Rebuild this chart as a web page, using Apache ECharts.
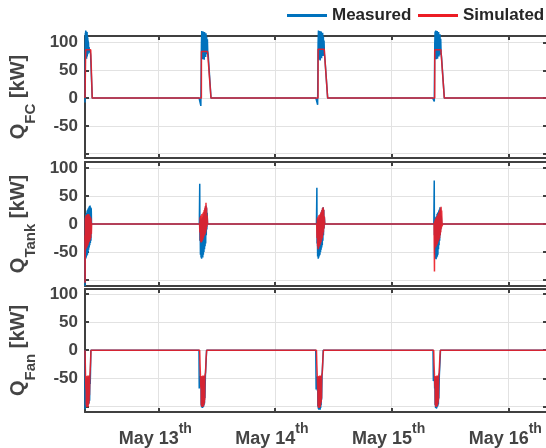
<!DOCTYPE html>
<html><head><meta charset="utf-8">
<script src="https://cdn.jsdelivr.net/npm/echarts@6/dist/echarts.min.js"></script>
<style>html,body{margin:0;padding:0;background:#fff}#c{width:546px;height:448px}</style>
</head><body><div id="c"></div>
<script>
// time in days relative to May 13 00:00
const xTickValues = [0, 1, 2, 3];
const xTickLabels = ['May 13', 'May 14', 'May 15', 'May 16'];
const yTickValues = [-100, -50, 0, 50, 100];
const yLabelValues = [-50, 0, 50, 100];
const panelNames = ['FC', 'Tank', 'Fan'];
const seriesNames = ['Measured', 'Simulated'];

const fcMeasured = [
 [-0.628,-8],[-0.6265,62],[-0.625,118],[-0.6235,76],[-0.622,122],[-0.6205,72],[-0.619,117],[-0.6175,79],[-0.616,120],[-0.6145,71],[-0.613,115],[-0.6115,83],[-0.610,119],[-0.6085,75],[-0.607,112],[-0.6055,86],[-0.604,109],[-0.6025,79],[-0.601,104],[-0.5995,88],[-0.598,100],[-0.596,84],[-0.593,92],[-0.589,82],[-0.585,86],[-0.580,78],[-0.566,0],
 [0.350,0],[0.365,-14],[0.370,96],[0.373,121],[0.376,72],[0.379,118],[0.382,70],[0.385,120],[0.388,76],[0.391,116],[0.394,69],[0.397,119],[0.400,78],[0.403,115],[0.406,74],[0.409,117],[0.412,82],[0.415,110],[0.418,79],[0.421,106],[0.424,84],[0.428,78],[0.452,0],
 [1.351,0],[1.366,-12],[1.370,98],[1.373,122],[1.376,69],[1.379,120],[1.382,75],[1.385,121],[1.388,68],[1.391,117],[1.394,80],[1.397,120],[1.400,72],[1.403,113],[1.406,85],[1.409,118],[1.412,76],[1.415,111],[1.418,83],[1.421,104],[1.424,80],[1.428,72],[1.452,0],
 [2.352,0],[2.366,-6],[2.370,97],[2.373,120],[2.376,73],[2.379,122],[2.382,70],[2.385,118],[2.388,77],[2.391,121],[2.394,71],[2.397,116],[2.400,82],[2.403,119],[2.406,75],[2.409,112],[2.412,84],[2.415,115],[2.418,78],[2.421,107],[2.424,82],[2.428,74],[2.452,0],
 [3.332,0]
];
const fcSimulated = [
 [-0.628,0],[-0.6225,0],[-0.622,87],[-0.579,87],[-0.566,0],
 [0.3695,0],[0.370,84],[0.4225,84],[0.452,0],
 [1.3695,0],[1.370,88],[1.4225,88],[1.452,0],
 [2.3695,0],[2.370,87],[2.4225,87],[2.452,0],
 [3.332,0]
];
const tankMeasured = [
 [-0.628,-30],[-0.6275,-111],[-0.626,-70],[-0.6245,12],[-0.622,-62],[-0.6195,18],[-0.617,-60],[-0.6145,20],[-0.612,-57],[-0.6095,24],[-0.607,-55],[-0.6045,26],[-0.602,-50],[-0.5995,28],[-0.597,-46],[-0.5945,30],[-0.592,-42],[-0.5895,32],[-0.587,-38],[-0.5845,33],[-0.582,-34],[-0.5795,30],[-0.577,-30],[-0.5745,28],[-0.572,0],
 [0.352,0],[0.3555,72],[0.357,-30],[0.359,5],[0.3615,-55],[0.364,8],[0.3665,-60],[0.369,10],[0.3715,-62],[0.374,6],[0.3765,-58],[0.379,12],[0.3815,-60],[0.384,8],[0.3865,-55],[0.389,15],[0.3915,-50],[0.394,20],[0.3965,-45],[0.399,26],[0.4015,-40],[0.404,30],[0.4065,-35],[0.409,33],[0.4115,-20],[0.414,28],[0.4165,-10],[0.419,20],[0.422,0],
 [1.356,0],[1.3595,65],[1.361,-35],[1.3635,5],[1.366,-58],[1.3685,8],[1.371,-62],[1.3735,6],[1.376,-60],[1.3785,10],[1.381,-57],[1.3835,12],[1.386,-55],[1.3885,15],[1.391,-50],[1.3935,18],[1.396,-46],[1.3985,22],[1.401,-42],[1.4035,25],[1.406,-38],[1.4085,28],[1.411,-30],[1.4135,30],[1.416,-20],[1.4185,25],[1.421,-8],[1.424,12],[1.427,0],
 [2.362,0],[2.3655,78],[2.367,-20],[2.3695,8],[2.372,-55],[2.3745,10],[2.377,-62],[2.3795,12],[2.382,-63],[2.3845,14],[2.387,-60],[2.3895,18],[2.392,-58],[2.3945,20],[2.397,-55],[2.3995,21],[2.402,-45],[2.4045,24],[2.407,-38],[2.4095,26],[2.412,-30],[2.4145,30],[2.417,-20],[2.4195,28],[2.422,-10],[2.425,15],[2.43,0],
 [3.332,0]
];
const tankSimulated = [
 [-0.628,-20],[-0.6272,-105],[-0.626,-40],[-0.6248,10],[-0.6235,-45],[-0.621,14],[-0.6185,-44],[-0.616,16],[-0.6135,-42],[-0.611,15],[-0.6085,-40],[-0.606,18],[-0.6035,-38],[-0.601,16],[-0.5985,-35],[-0.596,18],[-0.5935,-32],[-0.591,15],[-0.5885,-30],[-0.586,14],[-0.5835,-28],[-0.581,12],[-0.5785,-25],[-0.576,10],[-0.5735,-18],[-0.571,0],
 [0.354,0],[0.3565,-15],[0.359,12],[0.3615,-30],[0.364,15],[0.3665,-33],[0.369,14],[0.3715,-32],[0.374,18],[0.3765,-30],[0.379,16],[0.3815,-28],[0.384,20],[0.3865,-25],[0.389,22],[0.3915,-22],[0.394,25],[0.3965,-20],[0.399,28],[0.4015,-18],[0.404,32],[0.4065,-15],[0.409,38],[0.4115,-10],[0.414,30],[0.4165,-5],[0.419,15],[0.423,0],
 [1.358,0],[1.3605,-25],[1.363,10],[1.3655,-40],[1.368,12],[1.3705,-45],[1.373,14],[1.3755,-42],[1.378,16],[1.3805,-40],[1.383,15],[1.3855,-38],[1.388,18],[1.3905,-35],[1.393,20],[1.3955,-32],[1.398,22],[1.4005,-28],[1.403,25],[1.4055,-25],[1.408,28],[1.4105,-20],[1.413,30],[1.4155,-15],[1.418,26],[1.4205,-8],[1.423,14],[1.427,0],
 [2.364,0],[2.3674,-85],[2.369,5],[2.3715,-40],[2.374,8],[2.3765,-42],[2.379,10],[2.3815,-40],[2.384,12],[2.3865,-38],[2.389,14],[2.3915,-36],[2.394,15],[2.3965,-33],[2.399,18],[2.4015,-30],[2.404,20],[2.4065,-28],[2.409,22],[2.4115,-25],[2.414,25],[2.4165,-20],[2.419,28],[2.4215,-15],[2.424,31],[2.4265,-8],[2.429,24],[2.433,-4],[2.437,0],
 [3.332,0]
];
const fanMeasured = [
 [-0.628,0],[-0.6275,-105],[-0.626,-60],[-0.6245,-45],[-0.623,-70],[-0.621,-48],[-0.6185,-98],[-0.616,-50],[-0.6135,-100],[-0.611,-52],[-0.6085,-97],[-0.606,-48],[-0.6035,-99],[-0.601,-50],[-0.5985,-96],[-0.596,-47],[-0.5935,-95],[-0.591,-50],[-0.5885,-90],[-0.586,-45],[-0.5835,-60],[-0.581,-40],[-0.578,0],
 [0.349,0],[0.351,-68],[0.3545,-48],[0.358,-52],[0.3615,-46],[0.364,-65],[0.366,-48],[0.368,-99],[0.370,-50],[0.372,-102],[0.374,-49],[0.376,-100],[0.378,-48],[0.380,-103],[0.382,-50],[0.384,-101],[0.386,-47],[0.388,-100],[0.390,-48],[0.392,-98],[0.394,-46],[0.396,-95],[0.398,-50],[0.400,-85],[0.404,-45],[0.410,-20],[0.414,0],
 [1.350,0],[1.353,-70],[1.356,-48],[1.359,-55],[1.362,-47],[1.364,-72],[1.366,-48],[1.368,-100],[1.370,-49],[1.372,-104],[1.374,-48],[1.376,-106],[1.378,-50],[1.380,-105],[1.382,-48],[1.384,-104],[1.386,-47],[1.388,-106],[1.390,-49],[1.392,-103],[1.394,-46],[1.396,-98],[1.398,-50],[1.400,-88],[1.404,-45],[1.410,-20],[1.414,0],
 [2.355,0],[2.358,-55],[2.361,-47],[2.364,-52],[2.367,-46],[2.369,-68],[2.371,-48],[2.373,-98],[2.375,-50],[2.377,-103],[2.379,-49],[2.381,-101],[2.383,-48],[2.385,-104],[2.387,-50],[2.389,-102],[2.391,-47],[2.393,-100],[2.395,-48],[2.397,-99],[2.399,-46],[2.401,-96],[2.403,-50],[2.405,-86],[2.409,-45],[2.415,-20],[2.419,0],
 [3.332,0]
];
const fanSimulated = [
 [-0.628,0],[-0.626,-20],[-0.6235,-45],[-0.622,-48],[-0.620,-70],[-0.6185,-46],[-0.617,-98],[-0.6155,-47],[-0.614,-101],[-0.6125,-48],[-0.611,-99],[-0.6095,-46],[-0.608,-100],[-0.6065,-47],[-0.605,-98],[-0.6035,-45],[-0.602,-101],[-0.6005,-46],[-0.599,-97],[-0.5975,-45],[-0.596,-95],[-0.5945,-46],[-0.593,-90],[-0.5915,-45],[-0.590,-80],[-0.586,-45],[-0.580,-20],[-0.577,0],
 [0.355,0],[0.358,-25],[0.3615,-45],[0.364,-47],[0.3655,-68],[0.367,-46],[0.3685,-97],[0.370,-47],[0.3715,-100],[0.373,-46],[0.3745,-99],[0.376,-47],[0.3775,-101],[0.379,-46],[0.3805,-100],[0.382,-45],[0.3835,-99],[0.385,-46],[0.3865,-100],[0.388,-45],[0.3895,-98],[0.391,-46],[0.3925,-96],[0.394,-45],[0.3955,-93],[0.397,-46],[0.3985,-88],[0.400,-45],[0.405,-40],[0.410,-15],[0.415,0],
 [1.356,0],[1.359,-25],[1.3625,-45],[1.365,-47],[1.3665,-70],[1.368,-46],[1.3695,-99],[1.371,-47],[1.3725,-102],[1.374,-46],[1.3755,-101],[1.377,-47],[1.3785,-103],[1.380,-46],[1.3815,-102],[1.383,-45],[1.3845,-100],[1.386,-46],[1.3875,-101],[1.389,-45],[1.3905,-98],[1.392,-46],[1.3935,-95],[1.395,-45],[1.3965,-92],[1.398,-46],[1.3995,-86],[1.401,-45],[1.406,-40],[1.411,-15],[1.416,0],
 [2.361,0],[2.364,-25],[2.3675,-45],[2.370,-47],[2.3715,-66],[2.373,-46],[2.3745,-97],[2.376,-47],[2.3775,-100],[2.379,-46],[2.3805,-99],[2.382,-47],[2.3835,-101],[2.385,-46],[2.3865,-100],[2.388,-45],[2.3895,-99],[2.391,-46],[2.3925,-98],[2.394,-45],[2.3955,-96],[2.397,-46],[2.3985,-93],[2.400,-45],[2.4015,-88],[2.403,-45],[2.408,-40],[2.413,-15],[2.418,0],
 [3.332,0]
];

const measured = [fcMeasured, tankMeasured, fanMeasured];
const simulated = [fcSimulated, tankSimulated, fanSimulated];

const FONT = 'Liberation Sans, Arial, sans-serif';
const AX = '#404040';
const TXT = '#444444';
const BLUE = '#0072BD';
const RED = '#EC1C24';
const grids = [
  {left: 85, right: -1, top: 36, height: 122},
  {left: 85, right: -1, top: 162, height: 124},
  {left: 85, right: -1, top: 289, height: 123}
];
const yRanges = [[-108, 112], [-111, 111], [-110, 109]];
const xMin = -0.628, xMax = 3.332;

const xAxes = [], yAxes = [], series = [];
grids.forEach((g, i) => {
  const lineStyle = {color: AX, width: 2};
  xAxes.push({
    type: 'value', gridIndex: i, min: xMin, max: xMax, position: 'bottom',
    axisLine: {show: true, onZero: false, lineStyle},
    axisTick: {show: true, inside: true, length: 4, customValues: xTickValues, lineStyle: {color: AX, width: 2}},
    axisLabel: {show: i === 2, customValues: xTickValues, margin: 10,
      formatter: v => '{a|' + xTickLabels[xTickValues.indexOf(Math.round(v))] + '}{b|th}{p|}',
      rich: {
        a: {fontFamily: FONT, fontSize: 18, fontWeight: 'bold', color: TXT, lineHeight: 26, verticalAlign: 'bottom'},
        b: {fontFamily: FONT, fontSize: 14, fontWeight: 'bold', color: TXT, lineHeight: 14, verticalAlign: 'top'},
        p: {width: 6}
      }},
    splitLine: {show: true, lineStyle: {color: '#e2e2e2', width: 1}}
  });
  xAxes.push({
    type: 'value', gridIndex: i, min: xMin, max: xMax, position: 'top',
    axisLine: {show: true, onZero: false, lineStyle},
    axisTick: {show: true, inside: true, length: 4, customValues: xTickValues, lineStyle: {color: AX, width: 2}},
    axisLabel: {show: false}, splitLine: {show: false}
  });
  yAxes.push({
    type: 'value', gridIndex: i, min: yRanges[i][0], max: yRanges[i][1], position: 'left',
    axisLine: {show: true, onZero: false, lineStyle},
    axisTick: {show: true, inside: true, length: 4, customValues: yTickValues, lineStyle: {color: AX, width: 2}},
    axisLabel: {show: true, customValues: yLabelValues, margin: 7, fontFamily: FONT, fontSize: 17, fontWeight: 'bold', color: TXT},
    splitLine: {show: true, lineStyle: {color: '#e2e2e2', width: 1}},
    name: '{q|Q}{s|' + panelNames[i] + '}{q| [kW]}',
    nameLocation: 'middle', nameRotate: 90, nameGap: 36,
    nameTextStyle: {rich: {
      q: {fontFamily: FONT, fontSize: 20, fontWeight: 'bold', color: TXT, lineHeight: 24, verticalAlign: 'top'},
      s: {fontFamily: FONT, fontSize: 15, fontWeight: 'bold', color: TXT, lineHeight: 15, padding: [15, 0, 0, 0], verticalAlign: 'top'}
    }}
  });
  yAxes.push({
    type: 'value', gridIndex: i, min: yRanges[i][0], max: yRanges[i][1], position: 'right',
    axisLine: {show: true, onZero: false, lineStyle},
    axisTick: {show: true, inside: true, length: 4, customValues: yTickValues, lineStyle: {color: AX, width: 2}},
    axisLabel: {show: false}, splitLine: {show: false}
  });
  series.push({
    name: seriesNames[0], type: 'line', xAxisIndex: 2 * i, yAxisIndex: 2 * i,
    data: measured[i], showSymbol: false, symbol: 'none', clip: false,
    lineStyle: {color: BLUE, width: 1.5}, itemStyle: {color: BLUE}, z: 3
  });
  series.push({
    name: seriesNames[1], type: 'line', xAxisIndex: 2 * i, yAxisIndex: 2 * i,
    data: simulated[i], showSymbol: false, symbol: 'none', clip: false,
    lineStyle: {color: RED, width: 1.5, opacity: 0.9}, itemStyle: {color: RED}, z: 4
  });
});

const legendText = {fontFamily: FONT, fontSize: 17, fontWeight: 'bold', color: '#262626', padding: [6, 0, 0, 0]};
const chart = echarts.init(document.getElementById('c'), null, {renderer: 'canvas'});
chart.setOption({
  animation: false,
  backgroundColor: '#fff',
  grid: grids.map(g => Object.assign({outerBoundsMode: 'none', containLabel: false}, g)),
  xAxis: xAxes, yAxis: yAxes, series,
  legend: [
    {data: [seriesNames[0]], left: 282, top: 2, icon: 'rect', itemWidth: 40, itemHeight: 3, textStyle: legendText},
    {data: [seriesNames[1]], left: 413, top: 2, icon: 'rect', itemWidth: 40, itemHeight: 3, textStyle: legendText}
  ]
});
</script></body></html>
